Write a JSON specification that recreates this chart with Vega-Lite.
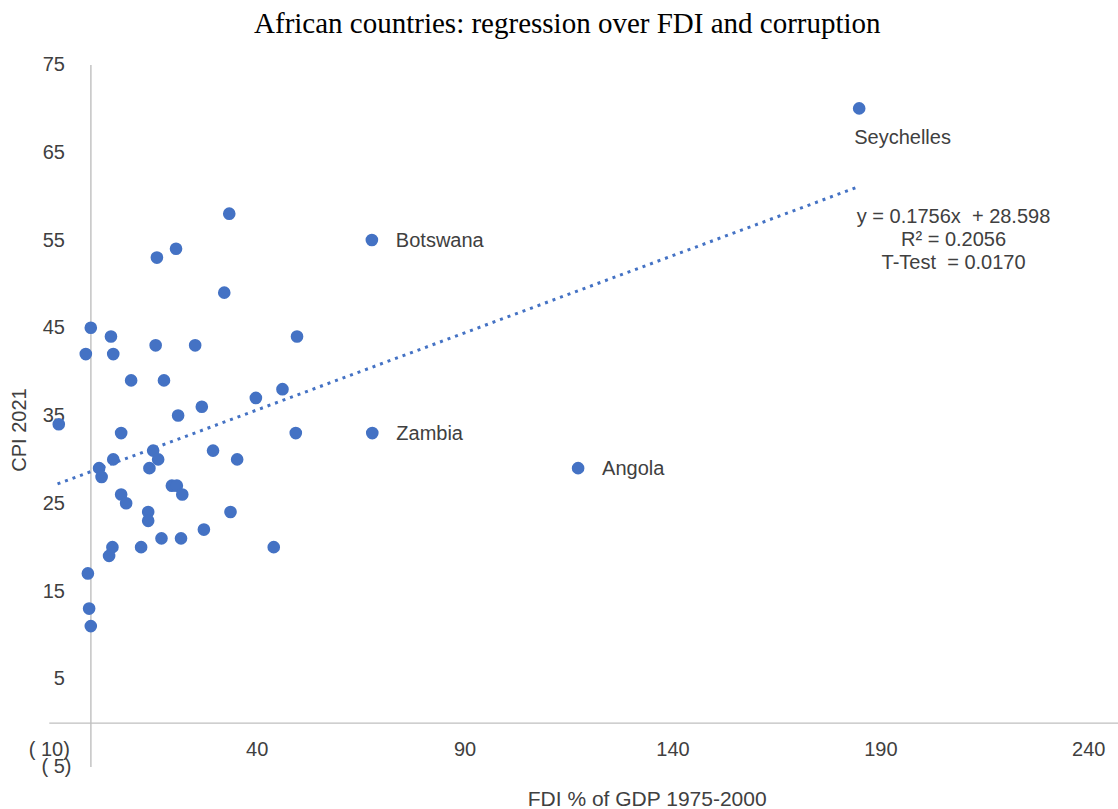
{
  "$schema": "https://vega.github.io/schema/vega-lite/v6.json",
  "autosize": {"type": "none"},
  "padding": {"left": 48.8, "top": 64.5, "right": 0.2, "bottom": 42.5},
  "width": 1069,
  "height": 702,
  "background": "#ffffff",
  "title": {
    "text": "African countries: regression over FDI and corruption",
    "font": "Liberation Serif",
    "fontSize": 29,
    "fontWeight": "normal",
    "color": "#000000",
    "anchor": "middle",
    "dx": -16,
    "offset": 16
  },
  "config": {
    "view": {"stroke": null},
    "font": "Liberation Sans"
  },
  "datasets": {
    "countries": [
      {"fdi": 184.9, "cpi": 70, "name": "Seychelles"},
      {"fdi": 67.7, "cpi": 55, "name": "Botswana"},
      {"fdi": 67.8, "cpi": 33, "name": "Zambia"},
      {"fdi": 117.3, "cpi": 29, "name": "Angola"},
      {"fdi": 33.4, "cpi": 58, "name": ""},
      {"fdi": 20.6, "cpi": 54, "name": ""},
      {"fdi": 16.0, "cpi": 53, "name": ""},
      {"fdi": 32.2, "cpi": 49, "name": ""},
      {"fdi": 0.1, "cpi": 45, "name": ""},
      {"fdi": 4.95, "cpi": 44, "name": ""},
      {"fdi": 49.7, "cpi": 44, "name": ""},
      {"fdi": -1.1, "cpi": 42, "name": ""},
      {"fdi": 5.5, "cpi": 42, "name": ""},
      {"fdi": 15.7, "cpi": 43, "name": ""},
      {"fdi": 25.2, "cpi": 43, "name": ""},
      {"fdi": 9.8, "cpi": 39, "name": ""},
      {"fdi": 17.7, "cpi": 39, "name": ""},
      {"fdi": 46.2, "cpi": 38, "name": ""},
      {"fdi": 39.8, "cpi": 37, "name": ""},
      {"fdi": 26.8, "cpi": 36, "name": ""},
      {"fdi": 21.1, "cpi": 35, "name": ""},
      {"fdi": -7.6, "cpi": 34, "name": ""},
      {"fdi": 7.4, "cpi": 33, "name": ""},
      {"fdi": 49.4, "cpi": 33, "name": ""},
      {"fdi": 15.1, "cpi": 31, "name": ""},
      {"fdi": 29.5, "cpi": 31, "name": ""},
      {"fdi": 16.3, "cpi": 30, "name": ""},
      {"fdi": 5.5, "cpi": 30, "name": ""},
      {"fdi": 35.3, "cpi": 30, "name": ""},
      {"fdi": 2.1, "cpi": 29, "name": ""},
      {"fdi": 14.2, "cpi": 29, "name": ""},
      {"fdi": 2.7, "cpi": 28, "name": ""},
      {"fdi": 19.6, "cpi": 27, "name": ""},
      {"fdi": 20.8, "cpi": 27, "name": ""},
      {"fdi": 22.1, "cpi": 26, "name": ""},
      {"fdi": 7.4, "cpi": 26, "name": ""},
      {"fdi": 8.6, "cpi": 25, "name": ""},
      {"fdi": 13.9, "cpi": 24, "name": ""},
      {"fdi": 33.7, "cpi": 24, "name": ""},
      {"fdi": 13.9, "cpi": 23, "name": ""},
      {"fdi": 27.3, "cpi": 22, "name": ""},
      {"fdi": 17.1, "cpi": 21, "name": ""},
      {"fdi": 21.8, "cpi": 21, "name": ""},
      {"fdi": 5.3, "cpi": 20, "name": ""},
      {"fdi": 12.2, "cpi": 20, "name": ""},
      {"fdi": 44.1, "cpi": 20, "name": ""},
      {"fdi": 4.5, "cpi": 19, "name": ""},
      {"fdi": -0.6, "cpi": 17, "name": ""},
      {"fdi": -0.3, "cpi": 13, "name": ""},
      {"fdi": 0.1, "cpi": 11, "name": ""}
    ],
    "trend": [
      {"fdi": -7.9, "cpi": 27.2},
      {"fdi": 184.3, "cpi": 61.0}
    ],
    "stats": [
      {"fdi": 207.6, "cpi": 57.67, "lines": ["y = 0.1756x\u00a0 + 28.598", "R² = 0.2056", "T-Test\u00a0 = 0.0170"]}
    ]
  },
  "layer": [
    {
      "data": {"name": "trend"},
      "mark": {"type": "line", "color": "#4472C4", "strokeWidth": 3, "strokeDash": [3, 5], "strokeCap": "butt"},
      "encoding": {
        "x": {
          "field": "fdi", "type": "quantitative",
          "scale": {"domain": [-10, 247.1], "nice": false, "zero": false},
          "axis": {
            "orient": "bottom",
            "offset": -43.9,
            "values": [-10, 40, 90, 140, 190, 240],
            "labelExpr": "datum.value < 0 ? '( ' + (-datum.value) + ')' : datum.label",
            "grid": false,
            "ticks": false,
            "tickSize": 0,
            "domainColor": "#bfbfbf",
            "domainWidth": 1.4,
            "labelFont": "Liberation Sans",
            "labelFontSize": 20,
            "labelColor": "#404040",
            "labelPadding": 16.5,
            "labelFlush": false,
            "labelOverlap": false,
            "title": "FDI % of GDP 1975-2000",
            "titleFont": "Liberation Sans",
            "titleFontSize": 21,
            "titleFontWeight": "normal",
            "titleColor": "#404040",
            "titleAlign": "center",
            "titleBaseline": "alphabetic",
            "titleX": 597.9,
            "titleY": 82.4
          }
        },
        "y": {
          "field": "cpi", "type": "quantitative",
          "scale": {"domain": [-5, 75], "nice": false, "zero": false},
          "axis": {
            "orient": "left",
            "offset": -41.6,
            "values": [-5, 5, 15, 25, 35, 45, 55, 65, 75],
            "labelExpr": "datum.value < 0 ? '( ' + (-datum.value) + ')' : datum.label",
            "grid": false,
            "ticks": false,
            "tickSize": 0,
            "domainColor": "#bfbfbf",
            "domainWidth": 1.4,
            "labelFont": "Liberation Sans",
            "labelFontSize": 20,
            "labelColor": "#404040",
            "labelPadding": {"condition": {"test": "datum.value < 0", "value": 19.4}, "value": 26},
            "labelFlush": false,
            "labelOverlap": false,
            "title": "CPI 2021",
            "titleFont": "Liberation Sans",
            "titleFontSize": 20,
            "titleFontWeight": "normal",
            "titleColor": "#404040",
            "titleAngle": -90,
            "titleAlign": "center",
            "titleBaseline": "middle",
            "titleX": -70.4,
            "titleY": 365
          }
        }
      }
    },
    {
      "data": {"name": "countries"},
      "mark": {"type": "point", "filled": true, "shape": "circle", "size": 160, "color": "#4472C4", "opacity": 1},
      "encoding": {
        "x": {"field": "fdi", "type": "quantitative"},
        "y": {"field": "cpi", "type": "quantitative"}
      }
    },
    {
      "data": {"name": "countries"},
      "transform": [{"filter": "datum.name != '' && datum.name != 'Seychelles'"}],
      "mark": {"type": "text", "align": "left", "baseline": "middle", "dx": 24, "dy": 1, "font": "Liberation Sans", "fontSize": 20, "color": "#404040"},
      "encoding": {
        "x": {"field": "fdi", "type": "quantitative"},
        "y": {"field": "cpi", "type": "quantitative"},
        "text": {"field": "name"}
      }
    },
    {
      "data": {"name": "countries"},
      "transform": [{"filter": "datum.name == 'Seychelles'"}],
      "mark": {"type": "text", "align": "left", "baseline": "middle", "dx": -5, "dy": 30, "font": "Liberation Sans", "fontSize": 20, "color": "#404040"},
      "encoding": {
        "x": {"field": "fdi", "type": "quantitative"},
        "y": {"field": "cpi", "type": "quantitative"},
        "text": {"field": "name"}
      }
    },
    {
      "data": {"name": "stats"},
      "mark": {"type": "text", "align": "center", "baseline": "middle", "lineHeight": 23.3, "font": "Liberation Sans", "fontSize": 20, "color": "#404040"},
      "encoding": {
        "x": {"field": "fdi", "type": "quantitative"},
        "y": {"field": "cpi", "type": "quantitative"},
        "text": {"field": "lines"}
      }
    }
  ]
}
